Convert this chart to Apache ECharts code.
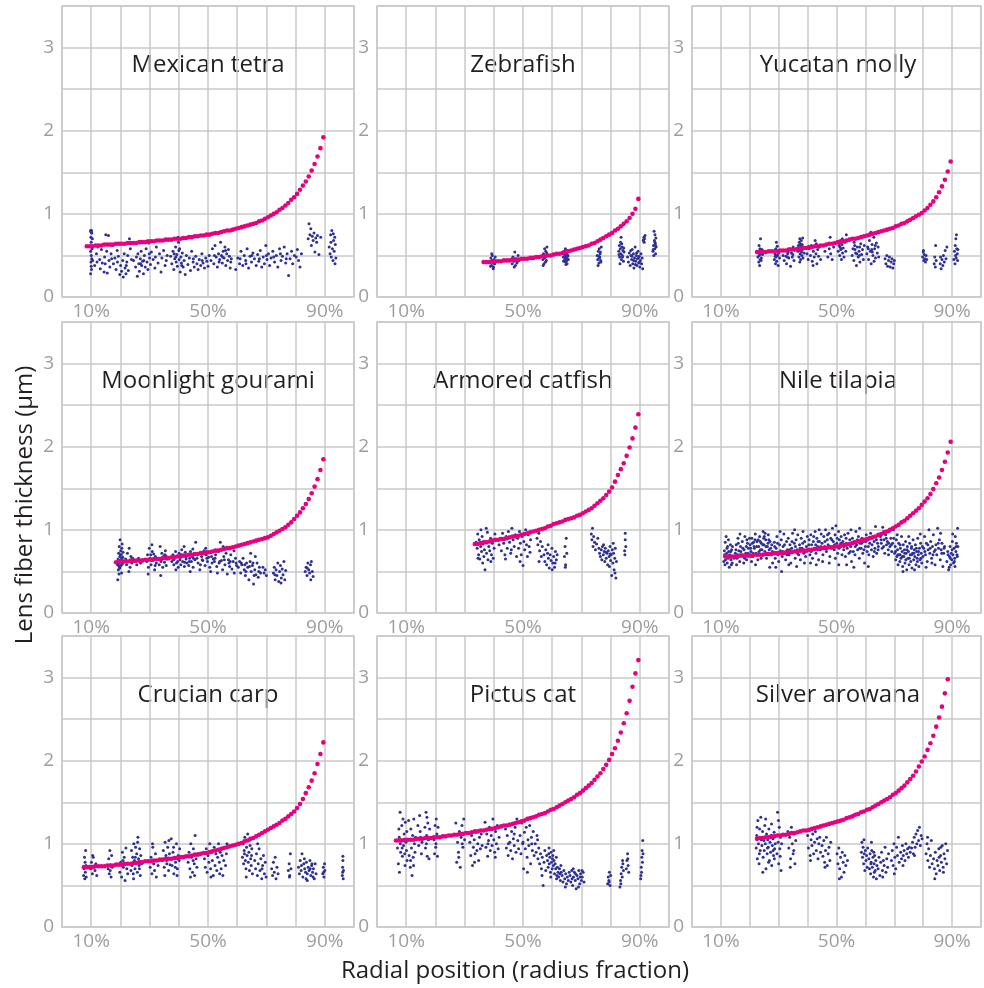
<!DOCTYPE html>
<html>
<head>
<meta charset="utf-8">
<title>Lens fiber thickness</title>
<script src="https://cdn.jsdelivr.net/npm/echarts@6/dist/echarts.min.js"></script>
<style>
  html, body { margin: 0; padding: 0; background: #fff; }
  #main { width: 984px; height: 988px; }
</style>
</head>
<body>
<div id="main"></div>
<script>
// panels, reading order (row by row)
const species = ['Mexican tetra', 'Zebrafish', 'Yucatan molly',
  'Moonlight gourami', 'Armored catfish', 'Nile tilapia',
  'Crucian carp', 'Pictus cat', 'Silver arowana'];

const xTickLabels = [10, 50, 90];   // radial position, %
const yTickLabels = [0, 1, 2, 3];   // µm

// model curve (pink): first radial position in %, then one value per 1% step
const curveStart = [8.5, 36.5, 22.5, 18.5, 33.5, 11.5, 7.5, 6.5, 22.5];

const tetraCurve = [.61,.61,.61,.62,.62,.62,.63,.63,.63,.63, .64,.64,.64,.64,.65,.65,.65,.65,.66,.66,
  .66,.67,.67,.67,.68,.68,.68,.69,.69,.69, .70,.70,.70,.71,.71,.72,.72,.73,.73,.74,
  .74,.75,.75,.76,.77,.77,.78,.79,.80,.80, .81,.82,.83,.84,.85,.86,.87,.88,.89,.91,
  .92,.94,.96,.98,1.00,1.02,1.05,1.07,1.10,1.13, 1.17,1.20,1.24,1.29,1.34,1.39,1.45,1.52,1.60,1.69, 1.79,1.92];
const zebraCurve = [.42,.42,.42,.43,.43,.43,.43,.44,.44,.44, .45,.45,.45,.46,.46,.46,.47,.47,.48,.48,
  .49,.49,.50,.50,.51,.52,.52,.53,.54,.55, .56,.57,.58,.59,.60,.61,.62,.64,.65,.67,
  .69,.71,.73,.75,.77,.80,.82,.85,.88,.91, .95,1.00,1.06,1.18];
const mollyCurve = [.54,.54,.54,.54,.55,.55,.55,.55,.56,.56, .56,.57,.57,.57,.58,.58,.59,.59,.60,.60,
  .61,.61,.62,.62,.63,.64,.64,.65,.66,.66, .67,.68,.69,.70,.70,.71,.72,.73,.74,.75,
  .76,.77,.78,.79,.80,.81,.82,.83,.85,.86, .88,.89,.91,.93,.95,.97,.99,1.01,1.04,1.07,
  1.11,1.15,1.20,1.26,1.33,1.41,1.51,1.63];
const gouramiCurve = [.61,.62,.62,.62,.62,.63,.63,.63,.63,.63, .64,.64,.64,.65,.65,.65,.66,.66,.66,.67,
  .67,.68,.68,.69,.69,.70,.70,.71,.71,.72, .72,.73,.73,.74,.75,.75,.76,.77,.78,.78,
  .79,.80,.81,.82,.83,.84,.85,.86,.87,.88, .89,.90,.91,.93,.95,.97,.99,1.01,1.03,1.06,
  1.09,1.13,1.17,1.21,1.26,1.31,1.37,1.44,1.52,1.61, 1.72,1.85];
const catfishCurve = [.83,.83,.84,.85,.85,.86,.87,.88,.88,.89, .89,.90,.91,.92,.92,.93,.94,.95,.96,.97,
  .98,.99,1.00,1.01,1.02,1.04,1.05,1.07,1.08,1.09, 1.10,1.12,1.13,1.14,1.15,1.17,1.18,1.20,1.22,1.24,
  1.26,1.29,1.32,1.35,1.38,1.42,1.46,1.51,1.58,1.66, 1.73,1.80,1.89,1.99,2.10,2.23,2.39];
const tilapiaCurve = [.68,.68,.68,.68,.68,.69,.69,.69,.69,.69, .70,.70,.70,.70,.71,.71,.71,.72,.72,.72,
  .72,.73,.73,.73,.74,.74,.75,.75,.75,.76, .76,.77,.77,.78,.78,.78,.79,.79,.80,.80,
  .81,.82,.82,.83,.84,.85,.86,.87,.88,.89, .90,.91,.92,.94,.95,.97,.98,1.00,1.02,1.04,
  1.06,1.09,1.11,1.14,1.17,1.20,1.23,1.26,1.30,1.34, 1.38,1.43,1.49,1.56,1.63,1.72,1.82,1.93,2.06];
const carpCurve = [.72,.72,.72,.72,.73,.73,.73,.73,.74,.74, .74,.75,.75,.75,.76,.76,.76,.77,.77,.78,
  .78,.79,.79,.79,.80,.80,.81,.81,.82,.82, .82,.83,.83,.84,.84,.85,.85,.86,.87,.87,
  .88,.89,.89,.90,.91,.92,.93,.94,.95,.96, .97,.98,.99,1.00,1.01,1.03,1.04,1.06,1.07,1.09,
  1.11,1.13,1.15,1.17,1.19,1.21,1.23,1.25,1.28,1.30, 1.33,1.36,1.39,1.43,1.48,1.54,1.61,1.68,1.76,1.85,
  1.96,2.08,2.22];
const pictusCurve = [1.04,1.04,1.04,1.05,1.05,1.05,1.05,1.06,1.06,1.06, 1.07,1.07,1.07,1.08,1.08,1.08,1.09,1.09,1.10,1.10,
  1.11,1.11,1.12,1.12,1.13,1.13,1.14,1.15,1.15,1.16, 1.16,1.17,1.18,1.18,1.19,1.20,1.21,1.22,1.22,1.23,
  1.24,1.25,1.26,1.27,1.28,1.30,1.31,1.32,1.33,1.35, 1.36,1.37,1.39,1.41,1.42,1.44,1.46,1.48,1.50,1.52,
  1.54,1.56,1.59,1.61,1.64,1.67,1.70,1.73,1.77,1.81, 1.85,1.90,1.95,2.01,2.08,2.15,2.24,2.34,2.45,2.57,
  2.72,2.89,3.05,3.21];
const arowanaCurve = [1.06,1.07,1.07,1.08,1.08,1.09,1.09,1.10,1.10,1.11, 1.11,1.12,1.13,1.13,1.14,1.15,1.16,1.16,1.17,1.18,
  1.19,1.20,1.21,1.22,1.23,1.24,1.25,1.26,1.27,1.28, 1.29,1.31,1.32,1.33,1.35,1.36,1.38,1.39,1.41,1.42,
  1.44,1.46,1.48,1.50,1.52,1.54,1.56,1.59,1.61,1.64, 1.67,1.70,1.74,1.78,1.82,1.87,1.93,1.99,2.05,2.13,
  2.21,2.30,2.41,2.52,2.65,2.81,2.98];

// measured fibers (navy): [radial position %, thickness µm]
const tetraDots = [
  [9.8,.80],[9.9,.79],[10.1,.80],[10.0,.78],[10.2,.77],[9.9,.72],[10.0,.66],[10.1,.61],[9.8,.55],[10.0,.50],[10.2,.46],[9.9,.42],[10.0,.37],[10.1,.33],[9.8,.28],[10.3,.58],[10.4,.70],[10.5,.44],
  [11.2,.38],[11.8,.52],[12.3,.60],[12.9,.45],[13.1,.34],[13.5,.57],[13.8,.41],[14.0,.63],[14.4,.30],[14.6,.48],[15.0,.75],[15.3,.55],[15.5,.29],[15.9,.74],[16.1,.44],[16.4,.36],[16.8,.52],[17.2,.62],[17.6,.40],
  [18.1,.47],[18.5,.33],[18.9,.56],[19.3,.49],[19.8,.27],[20.1,.38],[20.4,.31],[20.8,.44],[21.0,.24],[21.3,.52],[21.6,.35],[21.9,.28],[22.2,.42],[22.5,.50],[22.7,.32],[23.1,.70],[23.4,.58],[23.8,.45],
  [25.2,.36],[25.5,.48],[25.8,.25],[26.0,.52],[26.3,.40],[26.5,.31],[26.8,.46],[27.1,.55],[27.3,.38],[27.6,.43],[27.9,.28],[28.2,.50],[28.5,.36],[28.8,.58],[29.1,.42],[29.4,.33],[29.7,.65],[30.0,.47],[30.3,.39],[30.6,.54],
  [31.2,.45],[31.8,.35],[32.3,.60],[32.9,.41],[33.4,.52],[33.9,.30],[34.2,.47],[34.8,.56],[35.3,.38],[35.7,.44],
  [37.2,.49],[37.6,.40],[38.0,.55],[38.3,.33],[38.6,.46],[38.9,.60],[39.1,.42],[39.3,.51],[39.5,.37],[39.7,.72],[39.9,.66],[40.1,.45],[40.3,.58],[40.5,.30],[40.7,.48],[40.9,.41],[41.2,.53],[41.5,.36],[41.8,.44],[42.2,.27],[42.6,.50],
  [43.1,.39],[43.6,.47],[44.0,.32],[44.4,.55],[44.9,.42],[45.3,.36],[45.8,.49],[46.2,.40],[46.6,.33],[47.0,.45],[47.5,.38],[47.9,.52],[48.3,.41],[48.8,.35],[49.2,.47],[49.6,.43],[50.0,.37],[50.4,.50],
  [51.0,.44],[51.5,.58],[52.0,.40],[52.4,.62],[52.8,.48],[53.2,.36],[53.6,.52],[54.0,.45],[54.3,.66],[54.6,.50],[54.9,.41],[55.2,.55],[55.5,.47],[55.8,.60],[56.1,.38],[56.4,.52],[56.7,.44],[57.0,.57],[57.3,.49],[57.6,.35],[58.0,.46],
  [59.5,.33],[60.2,.47],[60.8,.40],[61.3,.55],[61.9,.38],[62.4,.50],[62.9,.44],[63.4,.58],[63.9,.35],[64.4,.49],[64.9,.42],[65.4,.53],[65.9,.46],
  [66.5,.38],[67.0,.51],[67.4,.43],[67.9,.56],[68.4,.36],[68.9,.48],[69.3,.40],[69.8,.62],[70.2,.45],[70.7,.52],[71.1,.38],[71.6,.47],
  [72.2,.55],[72.8,.42],[73.4,.50],[73.9,.36],[74.5,.58],[75.0,.44],[75.5,.49],[76.1,.60],[76.6,.41],[77.1,.52],[77.6,.26],[78.1,.46],[78.6,.55],[79.0,.40],
  [80.2,.48],[80.6,.57],[81.0,.44],[81.5,.36],[82.0,.52],
  [84.3,.70],[84.6,.88],[84.9,.75],[85.2,.82],[85.4,.62],[85.7,.73],[86.0,.68],[86.3,.77],[86.6,.54],[86.9,.71],[87.2,.66],[87.5,.74],[88.0,.51],[88.6,.72],
  [91.5,.60],[91.8,.52],[92.0,.75],[92.2,.48],[92.4,.80],[92.6,.58],[92.8,.44],[93.0,.68],[93.2,.55],[93.4,.72],[93.6,.63],[93.8,.47],[92.1,.66],[92.9,.76],[93.5,.40],
  [12.0,.42],[14.8,.40],[17.0,.46],[19.0,.42],[22.0,.38],[24.5,.44],[26.9,.40],[28.0,.44],[29.9,.52],[32.0,.48],[36.0,.50],[38.4,.52],[39.0,.48],[40.0,.56],[41.0,.38],[45.0,.46],
  [48.0,.44],[52.2,.50],[53.8,.42],[55.0,.48],[56.0,.56],[57.8,.42],[61.0,.46],[63.0,.40],[65.0,.50],[67.6,.46],[70.0,.50],[72.5,.48],[74.8,.52],[76.8,.46],[79.6,.50]
];
const zebraDots = [
  [38.8,.42],[39.0,.47],[39.2,.38],[39.4,.44],[39.5,.50],[39.7,.41],[39.9,.36],[40.1,.45],[40.3,.40],[39.3,.52],[39.8,.34],[40.5,.48],[40.0,.43],[38.9,.37],
  [46.0,.45],[46.3,.40],[46.6,.48],[46.9,.43],[47.2,.54],[47.4,.38],[47.7,.46],[48.0,.42],[48.3,.50],[48.6,.44],[47.0,.36],[46.4,.47],[47.9,.41],
  [56.8,.45],[57.0,.52],[57.2,.40],[57.4,.58],[57.6,.48],[57.8,.55],[58.0,.44],[58.2,.60],[57.3,.50],[57.7,.42],[56.9,.38],[58.1,.53],[57.5,.47],
  [63.8,.48],[64.0,.55],[64.1,.44],[64.3,.51],[64.4,.46],[64.5,.58],[64.6,.42],[64.8,.50],[64.9,.47],[65.0,.53],[65.1,.40],[65.3,.49],[65.5,.45],[64.2,.52],[64.7,.39],[65.2,.56],[63.9,.43],[65.4,.50],[64.6,.48],[65.0,.44],
  [75.4,.50],[75.6,.45],[75.8,.55],[76.0,.41],[76.1,.58],[76.3,.48],[76.4,.52],[76.6,.44],[76.8,.60],[75.7,.38],[76.2,.47],[76.5,.54],[75.9,.49],[76.7,.42],
  [82.8,.55],[83.0,.62],[83.1,.48],[83.3,.58],[83.4,.66],[83.5,.52],[83.6,.72],[83.7,.45],[83.9,.60],[84.0,.50],[84.2,.56],[84.4,.43],[84.6,.54],[83.2,.40],[83.8,.64],[84.1,.48],[82.9,.51],[84.5,.59],
  [85.8,.48],[86.1,.42],[86.4,.53],[86.7,.38],[87.0,.50],[87.2,.45],[87.4,.57],[87.6,.40],[87.8,.52],[88.0,.35],[88.2,.47],[88.4,.60],[88.6,.43],[88.8,.50],[89.0,.38],[89.2,.46],[89.4,.55],[89.6,.41],[89.8,.49],[90.0,.36],[90.2,.44],[90.4,.52],[90.6,.40],[90.8,.47],[91.0,.34],[86.9,.56],[87.9,.44],[88.9,.53],[89.9,.42],[88.5,.39],[87.3,.49],[89.5,.47],
  [91.2,.68],[91.4,.72],[91.6,.70],[91.8,.74],[91.5,.66],[91.3,.69],
  [94.5,.55],[94.7,.62],[94.8,.50],[95.0,.68],[95.1,.58],[95.2,.75],[95.3,.64],[95.4,.52],[95.5,.71],[95.6,.60],[94.9,.79],[95.2,.66],[94.6,.57],[95.4,.62]
];
const mollyDots = [
  [22.8,.48],[23.0,.55],[23.1,.42],[23.2,.62],[23.3,.50],[23.4,.38],[23.5,.58],[23.6,.45],[23.7,.70],[23.8,.53],[24.0,.47],[24.2,.57],[24.4,.51],[23.9,.44],[24.6,.55],
  [28.5,.45],[28.7,.52],[28.9,.40],[29.0,.58],[29.1,.48],[29.2,.66],[29.3,.43],[29.4,.55],[29.6,.50],[29.8,.38],[30.0,.53],[30.3,.47],[29.5,.61],[28.8,.49],
  [31.5,.50],[31.9,.44],[32.3,.56],[32.7,.40],[33.1,.52],[33.5,.47],[33.8,.58],[34.1,.37],[34.4,.53],[34.7,.48],[35.0,.60],[35.3,.44],[32.5,.49],[33.3,.54],[34.9,.51],
  [36.6,.55],[36.8,.62],[37.0,.48],[37.1,.66],[37.2,.58],[37.3,.70],[37.4,.52],[37.5,.64],[37.6,.45],[37.7,.60],[37.8,.68],[37.9,.54],[38.0,.50],[38.1,.63],[38.2,.57],[38.4,.47],[38.6,.60],[38.8,.53],[37.3,.42],[38.3,.71],
  [39.8,.52],[40.2,.45],[40.6,.58],[41.0,.50],[41.3,.62],[41.6,.43],[42.0,.55],[42.3,.48],[42.6,.68],[42.9,.52],[43.2,.40],[43.5,.57],[43.8,.49],[44.1,.60],[44.5,.45],[41.9,.38],[43.0,.64],
  [46.0,.55],[46.5,.63],[47.0,.48],[47.5,.58],[48.0,.52],[48.5,.45],[49.0,.60],[47.8,.72],
  [50.6,.55],[50.9,.62],[51.1,.50],[51.3,.68],[51.5,.57],[51.7,.45],[51.9,.63],[52.1,.53],[52.3,.59],[52.6,.48],[52.9,.66],[53.2,.55],[53.4,.75],[51.2,.60],[52.0,.70],
  [55.4,.50],[55.7,.58],[56.0,.44],[56.3,.62],[56.6,.53],[56.9,.38],[57.2,.60],[57.5,.48],[57.8,.55],[58.1,.42],[58.4,.64],[58.7,.51],[59.0,.57],[59.3,.45],[59.6,.62],[56.1,.66],[57.9,.50],
  [60.5,.52],[60.8,.60],[61.1,.45],[61.4,.68],[61.7,.55],[62.0,.40],[62.3,.63],[62.6,.50],[62.9,.72],[63.2,.58],[63.5,.47],[63.8,.65],[64.1,.53],[64.4,.60],[61.9,.78],[63.0,.43],[62.2,.57],[64.6,.48],
  [66.8,.46],[67.1,.40],[67.4,.50],[67.7,.37],[68.0,.44],[68.3,.48],[68.6,.36],[68.9,.42],[69.2,.46],[69.5,.35],[69.8,.40],[70.0,.44],
  [79.8,.48],[80.0,.54],[80.2,.44],[80.4,.51],[80.6,.46],[80.8,.42],[81.0,.50],[81.2,.45],[80.1,.56],
  [83.8,.40],[84.0,.48],[84.2,.36],[84.3,.62],[84.5,.44],
  [85.9,.40],[86.2,.34],[86.5,.45],[86.8,.38],[87.0,.50],[87.3,.42],[87.6,.56],[87.9,.46],[88.2,.60],[86.0,.48],
  [90.6,.45],[90.8,.55],[91.0,.40],[91.1,.62],[91.2,.50],[91.3,.70],[91.4,.47],[91.5,.75],[91.6,.58],[91.8,.52],[91.9,.44],[92.0,.57],
  [37.0,.56],[37.6,.62],[38.0,.58],[56.4,.57],[57.0,.52],[58.0,.60],[61.0,.58],[62.4,.54],[63.4,.62],[23.5,.52],[29.3,.50],[51.6,.58],[42.0,.60],[33.0,.48]
];
const gouramiDots = [
  [19.0,.58],[19.2,.65],[19.3,.52],[19.4,.72],[19.5,.60],[19.6,.80],[19.7,.55],[19.8,.68],[19.9,.88],[20.0,.62],[20.1,.75],[20.2,.57],[20.3,.70],[20.4,.48],[20.5,.64],[20.6,.83],[20.7,.59],[20.8,.67],[19.1,.40],[19.5,.47],[20.9,.73],[19.8,.54],[20.3,.61],[20.5,.78],
  [21.8,.65],[22.1,.58],[22.4,.72],[22.7,.62],[23.0,.78],[23.3,.55],[23.6,.68],[23.9,.60],[24.2,.66],[22.9,.50],
  [25.0,.62],[25.6,.58],[26.2,.66],[26.9,.60],[27.5,.64],
  [29.0,.62],[29.3,.70],[29.6,.55],[29.9,.78],[30.2,.66],[30.5,.58],[30.8,.82],[31.1,.63],[31.4,.71],[31.7,.52],[32.0,.68],[32.3,.60],[29.5,.47],[30.9,.74],[31.9,.57],
  [33.0,.66],[33.3,.58],[33.6,.80],[33.9,.62],[34.2,.72],[34.5,.55],[34.8,.68],[35.1,.61],[35.4,.75],[35.7,.57],[36.0,.65],[33.8,.45],[35.2,.70],
  [37.6,.62],[38.0,.70],[38.3,.58],[38.6,.66],[38.9,.74],[39.2,.60],[39.5,.68],[39.8,.55],[40.1,.72],[40.4,.64],[40.7,.58],[41.0,.76],[41.3,.62],[41.6,.69],[41.9,.56],[42.2,.73],[42.5,.65],[42.8,.60],[43.1,.70],[43.4,.57],[43.7,.66],[44.0,.74],[44.3,.62],[44.6,.68],[44.9,.55],[45.2,.71],[45.5,.64],[45.8,.85],[39.0,.52],[41.8,.80],[43.9,.50],[40.6,.67],[42.0,.61],[44.8,.77],
  [46.2,.66],[46.6,.60],[47.0,.72],[47.4,.58],[47.8,.68],[48.2,.63],[48.6,.75],[49.0,.57],[49.4,.70],[49.8,.62],[50.2,.67],[50.6,.55],[51.0,.73],[51.4,.60],[51.8,.65],[47.2,.52],[49.2,.78],[50.9,.50],
  [52.2,.62],[52.6,.70],[53.0,.56],[53.4,.74],[53.8,.60],[54.2,.85],[54.6,.63],[55.0,.52],[55.4,.68],[55.8,.58],[56.2,.72],[56.6,.47],[57.0,.64],[57.4,.56],[57.8,.70],[58.2,.53],[58.6,.62],[59.0,.48],[59.4,.66],[59.8,.57],[53.2,.48],[55.2,.80],[57.2,.60],[58.9,.75],
  [60.4,.55],[60.8,.62],[61.2,.48],[61.6,.58],[62.0,.66],[62.4,.52],[62.8,.45],[63.2,.60],[63.6,.55],[64.0,.40],[64.4,.62],[64.8,.50],[65.2,.57],[65.6,.35],[66.0,.52],[66.4,.46],[66.8,.60],[67.2,.43],[67.6,.55],[68.0,.48],[64.6,.72],[66.2,.68],[63.0,.50],[65.8,.45],
  [68.8,.55],[69.2,.48],[69.6,.52],[70.0,.45],
  [72.4,.48],[72.7,.55],[73.0,.40],[73.3,.52],[73.6,.45],[73.9,.60],[74.2,.38],[74.5,.50],[74.8,.57],[75.1,.42],[75.4,.53],[75.7,.46],[76.0,.62],[76.3,.40],[76.6,.51],[72.9,.46],[75.0,.36],
  [83.3,.50],[83.6,.55],[83.9,.45],[84.2,.60],[84.5,.52],[84.8,.48],[85.1,.58],[85.4,.62],[85.7,.50],[86.0,.44],[84.0,.54],[85.2,.40],
  [19.6,.63],[20.0,.70],[20.4,.66],[19.4,.57],[38.2,.64],[39.6,.62],[40.8,.70],[42.4,.68],[43.6,.62],[45.0,.66],[46.4,.70],[48.0,.64],[49.6,.66],[51.2,.68],
  [52.4,.66],[54.0,.62],[55.6,.64],[57.6,.62],[59.6,.60],[61.4,.60],[62.6,.58],[64.2,.56],[65.4,.60],[67.4,.50],[30.4,.70],[32.2,.66],[34.0,.64],[35.6,.69]
];
const catfishDots = [
  [34.0,.85],[34.3,.78],[34.5,.95],[34.8,.70],[35.0,.88],[35.2,.65],[35.5,.80],[35.8,.74],[36.0,.92],[36.3,.83],[36.6,.68],[36.8,.76],[37.0,.52],[37.2,.86],[37.5,.72],[37.8,.97],[38.0,.64],[38.3,.80],[38.6,.75],[38.9,.90],[39.2,.70],[39.5,.84],[39.8,.66],[40.1,.78],[40.4,.95],[35.6,1.00],[37.4,1.02],[36.2,.60],[39.0,.62],[34.6,.66],
  [41.8,.82],[42.2,.90],[42.6,.75],[43.0,.96],[43.4,.84],[43.8,.70],[44.2,.92],[44.6,.78],[45.0,.98],[45.4,.85],[45.8,.72],[46.2,1.02],[46.6,.88],[47.0,.80],[47.4,.94],[47.8,.68],[44.0,.65],[46.0,.76],
  [48.2,.90],[48.5,.78],[48.8,.98],[49.1,.84],[49.4,.70],[49.7,.92],[50.0,.57],[50.3,.86],[50.6,.76],[50.9,1.00],[51.2,.82],[51.5,.68],[51.8,.94],[52.1,.80],[52.4,.73],[49.0,.62],[50.5,.95],[52.6,.88],
  [54.8,.90],[55.1,.82],[55.4,.96],[55.7,.75],[56.0,.86],[56.3,.68],[56.6,.80],[55.5,.62],
  [57.2,.70],[57.5,.62],[57.8,.76],[58.1,.58],[58.4,.72],[58.7,.66],[59.0,.54],[59.3,.70],[59.6,.63],[59.9,.78],[60.2,.60],[60.5,.68],[60.8,.55],[61.1,.74],[61.4,.64],[61.7,.70],[58.6,.82],[60.0,.52],[61.0,.60],
  [64.2,.68],[64.4,.80],[64.6,.58],[64.8,.90],[65.0,.72],[64.5,.55],
  [73.4,.95],[73.6,.88],[73.8,1.02],[74.0,.80],[74.2,.92],[74.5,.85],[74.8,.76],[75.2,.83],[75.6,.90],[76.0,.78],
  [76.2,.72],[76.5,.68],[76.8,.76],[77.0,.64],[77.2,.80],[77.5,.70],[77.8,.74],[78.0,.62],[78.2,.78],[78.5,.66],[78.8,.72],[79.0,.58],[79.2,.75],[79.5,.68],[79.8,.80],[80.0,.63],[80.2,.70],[80.4,.45],[80.6,.76],[80.8,.60],[81.0,.72],[81.2,.52],[81.4,.66],[81.6,.78],[81.8,.42],[82.0,.62],[77.6,.82],[79.6,.56],[80.9,.84],[81.5,.48],[78.4,.73],[79.9,.71],
  [84.8,.75],[85.0,.88],[85.2,.80],[85.0,.96],[84.9,.70]
];
const tilapiaDots = [
  [11.0,.62],[11.2,.75],[11.4,.58],[11.5,.85],[11.7,.68],[11.8,.92],[12.0,.72],[12.2,.60],[12.3,.80],[12.5,.66],[12.7,.74],[12.9,.55],[13.1,.70],[13.3,.82],[13.5,.64],[13.7,.76],[13.9,.60],[14.1,.68],[11.3,.70],[12.6,.88],[13.6,.58],
  [15.0,.72],[15.3,.82],[15.6,.66],[15.9,.90],[16.2,.75],[16.5,.62],[16.8,.80],[17.1,.70],[17.4,.86],[17.7,.68],[18.0,.76],[18.3,.92],[18.6,.72],[18.9,.64],[19.2,.84],[19.5,.78],[19.8,.70],[15.4,.58],[16.6,.95],[17.9,.60],[19.0,.88],
  [20.1,.82],[20.4,.74],[20.7,.90],[21.0,.68],[21.3,.85],[21.6,.78],[21.9,.95],[22.2,.72],[22.5,.86],[22.8,.64],[23.1,.80],[23.4,.92],[23.7,.76],[24.0,.84],[24.3,.70],[24.6,.98],[24.9,.82],[25.2,.74],[25.5,.88],[25.8,.66],[26.1,.80],[26.4,.94],[26.7,.76],[27.0,.86],[27.3,.70],[27.6,.82],[27.9,.60],[20.6,.62],[22.0,.58],[23.9,.66],[25.3,.96],[26.9,.55],[21.5,.80],[23.2,.74],[24.8,.90],[26.3,.84],[22.9,.88],[25.9,.72],
  [28.2,.72],[28.5,.85],[28.8,.66],[29.1,.78],[29.4,.92],[29.7,.70],[30.0,.62],[30.3,.82],[30.6,.75],[30.9,.88],[31.2,.68],[31.5,.80],[31.8,.95],[32.1,.72],[32.4,.64],[32.7,.86],[33.0,.76],[33.3,.90],[33.6,.70],[33.9,.82],[34.2,.60],[34.5,.78],[34.8,.96],[35.1,.74],[35.4,.84],[35.7,.66],[36.0,.88],[36.3,.76],[36.6,.94],[36.9,.70],[37.2,.82],[37.5,.64],[37.8,.90],[38.1,.78],[38.4,.98],[38.7,.72],[39.0,.86],[39.3,.68],[39.6,.80],[39.9,.92],[29.0,.55],[31.0,.50],[33.5,.58],[36.2,.56],[38.9,.60],[30.5,.98],[35.5,1.00],
  [40.2,.76],[40.5,.88],[40.8,.70],[41.1,.94],[41.4,.82],[41.7,.66],[42.0,.86],[42.3,.78],[42.6,.98],[42.9,.72],[43.2,.90],[43.5,.80],[43.8,.64],[44.1,.86],[44.4,.76],[44.7,.95],[45.0,.84],[45.3,.70],[45.6,.92],[45.9,.80],[46.2,1.00],[46.5,.74],[46.8,.88],[47.1,.82],[47.4,.96],[47.7,.68],[48.0,.90],[48.3,.78],[48.6,1.02],[48.9,.86],[49.2,.76],[49.5,.94],[49.8,1.05],[50.1,.84],[50.4,.72],[50.7,.98],[51.0,.88],[51.3,.80],[51.6,.92],[51.9,.70],[41.0,.60],[43.0,.58],[45.2,.62],[47.5,.60],[49.6,.66],[50.8,.58],[44.0,1.00],
  [52.2,.86],[52.5,.76],[52.8,.94],[53.1,.68],[53.4,.84],[53.7,.78],[54.0,.96],[54.3,.72],[54.6,.88],[54.9,.80],[55.2,.62],[55.5,.90],[55.8,.74],[56.1,.86],[56.4,.70],[56.7,.98],[57.0,.82],[57.3,.76],[57.6,.92],[57.9,.66],[58.2,.84],[58.5,.78],[58.8,.90],[59.1,.72],[59.4,.86],[59.7,.60],[60.0,.80],[60.3,.94],[60.6,.74],[60.9,.88],[61.2,.70],[61.5,.84],[61.8,.96],[62.1,.76],[62.4,.90],[62.7,.68],[63.0,.86],[63.3,.78],[63.6,.92],[63.9,.72],[64.2,.84],[64.5,.80],[53.5,.58],[56.0,.55],[58.0,1.02],[61.0,.56],[63.5,1.04],[55.0,1.00],
  [65.2,.92],[65.5,.84],[65.8,.78],[66.1,.96],[66.4,.88],[66.7,.72],[67.0,.94],[67.3,.82],[67.6,.86],[67.9,.76],[68.2,.98],[68.5,.80],[68.8,.90],[69.1,.74],[69.4,.84],[69.7,1.00],[66.0,1.03],[68.0,.70],
  [70.1,.72],[70.3,.80],[70.5,.64],[70.7,.88],[70.9,.68],[71.1,.76],[71.3,.58],[71.5,.84],[71.7,.70],[71.9,.62],[72.1,.78],[72.3,.66],[72.5,.92],[72.7,.74],[72.9,.56],[73.1,.82],[73.3,.68],[73.5,.76],[73.7,.60],[73.9,.86],[74.1,.72],[74.3,.52],[74.5,.80],[74.7,.66],[74.9,.74],[75.1,.58],[75.3,.84],[75.5,.70],[75.7,.62],[75.9,.78],[76.1,.54],[76.3,.72],[76.5,.88],[76.7,.64],[76.9,.76],[77.1,.68],[77.3,.82],[77.5,.58],[77.7,.74],[77.9,.66],[78.1,.90],[78.3,.70],[78.5,.56],[78.7,.78],[78.9,.64],[79.1,.84],[79.3,.72],[79.5,.60],[79.7,.80],[79.9,.68],[71.0,.94],[73.0,.50],[75.0,.92],[77.0,.52],[79.0,.95],[72.0,.70],[74.0,.64],[76.0,.80],[78.0,.62],
  [80.2,.78],[80.5,.92],[80.8,.70],[81.1,.84],[81.4,.62],[81.7,.76],[82.0,1.00],[82.3,.72],[82.6,.86],[82.9,.66],[83.2,.80],[83.5,.94],[83.8,.74],[84.1,.58],[84.4,.82],[84.7,.70],[85.0,1.02],[85.3,.78],[85.6,.88],[85.9,.64],[86.2,.76],[86.5,.84],[86.8,.56],[87.1,.72],[87.4,.80],[81.0,.55],[83.0,.60],[86.0,.96],
  [88.2,.62],[88.5,.74],[88.8,.52],[89.1,.68],[89.3,.80],[89.5,.58],[89.7,.72],[89.9,.64],[90.1,.86],[90.3,.70],[90.5,.60],[90.7,.78],[90.9,.66],[91.1,.92],[91.3,.74],[91.5,.84],[91.7,.70],[91.9,1.02],[92.0,.80],[89.0,.55],[90.2,.95],[91.0,.56],
  [11.6,.64],[12.1,.78],[12.8,.69],[13.4,.74],[14.0,.80],[14.6,.66],[15.2,.76],[15.7,.70],[16.0,.84],[16.9,.74],[17.6,.78],[18.2,.66],[18.8,.80],[19.4,.72],[19.9,.90],
  [20.3,.78],[20.9,.84],[21.2,.72],[21.8,.88],[22.4,.80],[23.0,.70],[23.6,.86],[24.2,.76],[24.5,.82],[25.0,.92],[25.6,.80],[26.0,.70],[26.6,.88],[27.2,.78],[27.8,.74],
  [28.6,.80],[29.6,.84],[30.2,.72],[31.4,.74],[32.0,.82],[32.9,.70],[33.8,.76],[34.6,.86],[35.8,.80],[36.5,.72],[37.4,.78],[38.3,.84],[39.4,.74],
  [40.4,.82],[41.2,.74],[42.1,.92],[42.8,.82],[43.6,.86],[44.6,.80],[45.4,.78],[46.0,.86],[46.9,.94],[47.8,.80],[48.4,.88],[49.3,.82],[50.2,.90],[50.9,.78],[51.5,.84],
  [52.6,.80],[53.3,.90],[54.1,.82],[54.8,.74],[55.6,.84],[56.5,.80],[57.2,.88],[58.0,.78],[58.7,.84],[59.5,.76],[60.2,.86],[61.0,.80],[61.6,.90],[62.3,.82],[63.1,.74],[63.8,.88],[64.4,.76],
  [65.4,.88],[66.3,.80],[67.2,.90],[68.1,.84],[69.0,.82],[69.8,.90],
  [70.4,.74],[71.2,.70],[72.0,.82],[72.8,.68],[73.6,.72],[74.4,.76],[75.2,.66],[76.0,.70],[76.8,.72],[77.6,.78],[78.4,.74],[79.2,.66],
  [80.6,.74],[81.6,.82],[82.4,.78],[83.4,.70],[84.2,.76],[85.2,.84],[86.4,.72],[87.2,.78],
  [88.6,.70],[89.4,.66],[90.0,.76],[90.8,.62],[91.4,.80],[91.8,.68]
];
const carpDots = [
  [7.4,.62],[7.6,.70],[7.8,.58],[7.9,.78],[8.0,.66],[8.1,.92],[8.2,.74],[7.7,.84],[8.3,.60],[7.5,.72],
  [9.8,.70],[10.1,.78],[10.4,.64],[10.7,.84],[11.0,.72],[11.3,.68],[11.6,.76],[11.9,.62],[10.5,.86],[11.2,.74],
  [15.8,.70],[16.0,.82],[16.2,.64],[16.4,.92],[16.6,.75],[16.8,.60],[17.0,.86],[17.2,.72],[16.5,.68],
  [19.8,.66],[20.1,.78],[20.4,.60],[20.7,.90],[21.0,.72],[21.3,.84],[21.6,.56],[21.9,.95],[22.2,.70],[20.9,.80],[21.5,.75],[22.5,.64],
  [23.4,.76],[23.6,.68],[23.8,.92],[24.0,.74],[24.2,.84],[24.4,.64],[24.6,1.00],[24.8,.80],[25.0,.70],[25.2,.96],[25.4,.78],[25.6,.88],[25.8,.66],[26.0,1.08],[26.2,.82],[26.4,.74],[26.6,.94],[26.8,.62],[27.0,.86],[27.2,.76],[24.5,.58],[25.9,1.02],[26.5,.70],[25.1,.84],
  [30.2,.72],[30.5,.84],[30.8,.64],[31.1,.96],[31.4,.76],[31.7,.68],[32.0,.88],[32.3,.60],[32.6,.80],[32.9,.74],[31.0,1.00],
  [34.4,.80],[34.7,.92],[35.0,.72],[35.3,1.02],[35.6,.86],[35.9,.76],[36.2,.96],[36.5,.68],[36.8,.88],[37.1,.82],[37.4,1.06],[37.7,.74],[38.0,.90],[38.3,.64],[38.6,.84],[38.9,.78],[39.2,1.00],[39.5,.70],[39.8,.86],[40.1,.80],[35.2,.62],[36.6,1.04],[38.2,.96],[39.4,.62],[37.0,.75],[38.8,.72],[35.8,.80],[40.3,.94],
  [43.2,.78],[43.5,.90],[43.8,.70],[44.1,1.00],[44.4,.84],[44.7,.66],[45.0,.94],[45.3,.76],[45.6,1.10],[45.9,.82],[46.2,.72],[46.5,.88],[44.0,.60],[45.4,.62],[44.9,.80],
  [48.8,.82],[49.1,.72],[49.4,.94],[49.7,.66],[50.0,.86],[50.3,.78],[50.6,1.00],[50.9,.70],[51.2,.90],[51.5,.80],[51.8,.62],[52.1,.96],[52.4,.74],[52.7,.88],[53.0,.68],[53.3,.84],[53.6,1.00],[53.9,.78],[54.2,.90],[54.5,.70],[54.8,.86],[55.1,.62],[55.4,.80],[55.7,.96],[56.0,.74],[56.3,.88],[51.0,.60],[54.0,.64],[56.5,1.00],
  [61.8,.84],[62.0,1.00],[62.2,.76],[62.4,.92],[62.6,1.08],[62.8,.80],[63.0,.70],[63.2,.96],[63.4,.86],[63.6,1.12],[63.8,.78],[64.0,.90],[64.2,.68],[64.4,.98],[64.6,.82],[64.8,.74],[65.0,.94],[65.2,.64],[63.1,.60],[64.1,1.04],[62.5,.88],[64.9,.86],
  [66.0,.80],[66.3,.70],[66.6,.88],[66.9,.62],[67.2,.76],[67.5,.94],[67.8,.68],[68.1,.82],[68.4,.58],[68.7,.74],[69.0,.86],[69.3,.64],[69.6,.78],[69.9,.60],[67.0,1.00],[68.5,.70],
  [71.8,.70],[72.1,.62],[72.4,.78],[72.7,.66],[73.0,.84],[73.3,.58],[73.6,.72],[74.0,.64],
  [77.5,.68],[77.8,.76],[78.0,.62],[78.2,.88],[78.4,.70],[77.9,.60],
  [81.0,.72],[81.3,.64],[81.6,.80],[81.9,.68],[82.2,.88],[82.5,.60],[82.8,.76],[83.1,.70],[83.4,.66],[83.7,.78],[84.0,.56],[84.3,.72],[84.6,.68],[84.9,.80],[85.2,.62],[85.5,.74],[85.8,.66],[86.1,.70],[86.4,.58],[86.7,.76],[87.0,.64],[82.0,.74],[83.0,.82],[84.0,.64],[85.0,.70],[86.0,.60],[83.6,.58],[85.6,.76],
  [89.3,.64],[89.5,.72],[89.7,.60],[89.9,.76],[90.0,.68],[89.6,.66],
  [96.0,.62],[96.1,.72],[96.2,.80],[96.3,.58],[96.4,.68],[96.2,.85],[96.1,.66]
];
const pictusDots = [
  [7.0,.95],[7.3,.76],[7.5,1.18],[7.7,.66],[7.9,1.38],[8.1,.90],[8.3,1.05],[8.5,1.22],[8.7,.85],[8.9,1.30],[9.1,.98],[9.3,1.12],[9.5,.88],[9.7,1.26],[9.9,1.02],[10.1,.92],[10.3,.80],[7.6,1.08],[8.6,.95],[9.6,.74],[10.2,1.15],[8.0,1.00],
  [10.8,1.28],[11.0,.86],[11.2,1.05],[11.4,.72],[11.6,1.18],[11.8,.95],[12.0,.62],[12.2,1.10],[12.4,.84],[12.6,1.30],[12.8,1.00],[13.0,.90],[11.5,.80],[12.5,.74],[13.2,1.08],
  [14.0,1.22],[14.3,.98],[14.6,1.34],[14.9,1.08],[15.2,.88],[14.8,1.15],[15.4,1.02],
  [16.4,1.20],[16.6,.95],[16.8,1.38],[17.0,1.10],[17.2,.85],[17.4,1.25],[17.6,1.05],[17.8,.82],[18.0,1.18],[17.1,1.32],[16.9,1.00],
  [19.5,1.05],[19.7,.88],[19.9,1.22],[20.1,.96],[20.3,1.30],[20.5,1.12],[20.7,.85],[20.9,1.20],[20.2,1.00],
  [27.0,1.25],[27.3,.78],[27.6,1.02],[27.9,.90],[28.2,1.15],[28.5,.72],[28.8,1.08],[29.1,1.22],[29.4,.96],[29.7,1.30],[30.0,1.05],[28.0,.84],[29.2,1.00],
  [31.8,1.02],[32.1,.86],[32.4,1.10],[32.7,.74],[33.0,.96],[33.3,1.05],[33.6,.88],[33.9,1.14],[34.2,.92],[34.5,1.00],[34.8,.80],[35.1,1.08],[35.4,.94],[35.7,1.12],[36.0,.98],[33.4,.78],
  [37.0,1.26],[37.3,.96],[37.6,1.12],[37.9,.85],[38.2,1.04],[38.5,1.20],[38.8,.92],[39.1,1.10],[39.4,.98],[39.7,1.30],[40.0,1.05],[40.3,.90],[40.6,1.15],[40.9,1.00],[41.2,1.22],[41.5,.94],[41.8,1.08],[38.0,1.00],[40.5,.84],
  [44.0,1.18],[44.3,.95],[44.6,1.10],[44.9,.86],[45.2,1.24],[45.5,1.02],[45.8,.92],[46.1,1.15],[46.4,.82],[46.7,1.06],[47.0,.98],[47.3,1.20],[47.6,.90],[47.9,1.30],[48.2,1.04],[48.5,.94],[45.0,1.00],[47.0,1.12],
  [49.0,1.10],[49.3,.88],[49.6,1.25],[49.9,1.00],[50.2,.70],[50.5,1.14],[50.8,.94],[51.1,1.20],[51.4,.84],[51.7,1.05],[52.0,.98],[52.3,1.22],[52.6,.76],[52.9,1.08],[53.2,.92],[53.5,1.15],[53.8,.86],[50.0,1.02],[51.5,.66],[53.0,1.00],
  [54.2,1.00],[54.5,.90],[54.8,1.10],[55.1,.82],[55.4,.95],[55.7,.76],[56.0,.88],[56.3,.70],[56.6,.84],[56.9,.50],[57.2,.78],[57.5,.92],[57.8,.68],[58.1,.86],[55.0,1.05],[56.5,.62],
  [58.4,.80],[58.6,.72],[58.8,.88],[59.0,.76],[59.2,.84],[59.4,.66],[59.6,.90],[59.8,.78],[60.0,.70],[60.2,.86],[60.4,.74],[60.6,.80],[60.8,.64],[61.0,.76],[61.2,.70],[61.4,.84],[61.6,.62],[61.8,.72],[62.0,.66],[58.9,.95],[60.5,.92],[59.5,.60],[61.5,.58],[60.1,.82],
  [62.2,.60],[62.5,.70],[62.8,.56],[63.1,.66],[63.4,.62],[63.7,.54],[64.0,.68],[64.3,.58],[64.6,.64],[64.9,.52],[65.2,.60],[65.5,.56],[65.8,.66],[63.0,.74],[64.5,.48],[62.6,.64],
  [66.1,.62],[66.4,.54],[66.7,.68],[67.0,.50],[67.3,.60],[67.6,.66],[67.9,.56],[68.2,.46],[68.5,.62],[68.8,.58],[69.1,.68],[69.4,.52],[69.7,.64],[70.0,.56],[70.3,.60],[70.6,.66],[70.9,.54],[67.2,.70],[68.0,.64],[69.0,.48],[70.2,.68],[66.8,.58],[69.6,.60],
  [79.0,.52],[79.2,.60],[79.4,.56],[79.6,.66],[79.8,.50],[80.0,.62],[79.5,.54],
  [83.2,.48],[83.4,.56],[83.6,.64],[83.8,.72],[84.0,.60],[84.2,.76],[84.4,.68],[83.5,.52],[84.1,.80],
  [85.4,.70],[85.6,.80],[85.8,.88],[86.0,.74],[86.2,.66],[85.9,.82],
  [90.3,.58],[90.5,.72],[90.6,.66],[90.7,.84],[90.8,.92],[90.9,.78],[91.0,1.04],[91.1,.88],[90.4,.62]
];
const arowanaDots = [
  [22.2,.95],[22.4,1.10],[22.6,.82],[22.8,1.28],[23.0,1.00],[23.2,.76],[23.4,1.18],[23.6,.92],[23.8,1.32],[24.0,1.05],[22.5,1.20],[23.3,.88],
  [24.2,.98],[24.4,1.15],[24.6,.84],[24.8,1.08],[25.0,.92],[25.2,1.22],[25.4,1.00],[25.6,.70],[25.8,1.12],[26.0,.88],[26.2,1.05],[26.4,.96],[26.6,1.18],[26.8,.80],[27.0,1.02],[27.2,.90],[27.4,1.10],[27.6,.74],[27.8,.98],[28.0,1.06],[28.2,.86],[28.4,1.14],[28.6,.94],[28.8,1.00],[24.5,.66],[25.5,1.30],[26.5,.78],[27.5,1.24],[28.5,.82],[24.9,1.04],[26.1,.95],[27.1,1.08],[28.1,.92],
  [29.2,1.10],[29.4,.88],[29.6,1.38],[29.8,1.02],[30.0,.76],[30.2,1.20],[30.4,.94],[30.6,1.08],[30.8,.68],[31.0,1.00],[29.9,1.28],[30.5,.85],
  [33.2,1.15],[33.5,.95],[33.8,1.08],[34.1,.82],[34.4,1.20],[34.7,1.00],[35.0,.88],[35.3,1.12],[35.6,.76],[35.9,1.04],[34.0,.72],[35.2,.92],
  [40.0,1.10],[40.3,.95],[40.6,1.16],[40.9,.86],[41.2,1.05],[41.5,.98],[41.8,1.12],[42.1,.88],[42.4,1.02],[42.7,1.15],[43.0,.92],[43.3,1.06],[43.6,.82],[43.9,1.00],[44.2,1.08],[44.5,.90],[41.0,.80],
  [45.0,.98],[45.3,.85],[45.6,1.04],[45.9,.78],[46.2,.92],[46.5,1.08],[46.8,.74],[47.1,.88],[47.4,.96],[47.7,.80],[48.0,1.02],[46.0,.72],
  [50.2,.88],[50.5,.76],[50.8,.95],[51.1,.70],[51.4,.84],[51.7,.60],[52.0,.90],[52.3,.78],[52.6,.66],[52.9,.86],[53.2,.74],[53.8,.80],[51.0,.58],
  [58.6,.90],[58.8,1.02],[59.0,.84],[59.2,.96],[59.4,.76],[59.6,.88],[59.8,.68],[60.0,.92],[60.2,.80],[60.4,.86],[60.6,.72],[60.8,.95],[59.5,1.05],
  [61.2,.82],[61.4,.70],[61.6,.88],[61.8,.64],[62.0,.78],[62.2,.92],[62.4,.72],[62.6,.84],[62.8,.60],[63.0,.76],[63.2,.86],[63.4,.68],[63.6,.80],[63.8,.58],[64.0,.74],[62.1,1.02],[63.1,.66],[61.9,.76],[62.9,.90],
  [64.4,.70],[64.7,.84],[65.0,.62],[65.3,.78],[65.6,.90],[65.9,.68],[66.2,.80],[66.5,.74],[66.8,.96],[67.1,.66],[67.4,.82],[67.7,.72],[68.0,.88],[66.0,.60],
  [69.0,.80],[69.3,.92],[69.6,.74],[69.9,1.00],[70.2,.84],[70.5,.70],[70.8,.96],[71.1,.86],[71.4,1.08],[71.7,.78],[70.0,.64],
  [72.2,.90],[72.5,.82],[72.8,.98],[73.1,.86],[73.4,.92],[73.7,.80],[74.0,1.00],[74.3,.88],[74.6,.94],[74.9,.84],[75.2,.96],[75.5,.90],[73.0,.74],
  [76.0,.95],[76.3,1.02],[76.6,.88],[76.9,1.08],[77.2,.96],[77.5,1.12],[77.8,1.00],[78.1,1.16],[78.4,1.04],[78.7,1.20],[79.0,.98],[79.3,1.10],[79.6,1.06],[77.0,.86],
  [81.0,.88],[81.3,1.00],[81.6,.80],[81.9,.94],[82.2,.72],[82.5,.86],[82.8,1.04],[83.1,.76],[81.5,1.08],
  [83.6,.82],[83.9,.70],[84.2,.90],[84.5,.64],[84.8,.80],[85.1,.74],[85.4,.94],[85.7,.68],[86.0,.86],[86.3,.78],[86.6,.98],[86.9,.72],[87.2,.88],[87.5,.82],[87.8,1.00],[88.1,.76],[88.4,.92],[84.0,.58],[85.5,.84],[87.0,.66],[86.1,.96]
];

const curves = [tetraCurve, zebraCurve, mollyCurve, gouramiCurve, catfishCurve, tilapiaCurve, carpCurve, pictusCurve, arowanaCurve];
const dots = [tetraDots, zebraDots, mollyDots, gouramiDots, catfishDots, tilapiaDots, carpDots, pictusDots, arowanaDots];

// layout (px)
const colLeft = [62, 377, 692];
const rowTop = [6, 322, 636];
const panelW = 292, panelH = 291;

const font = '"Open Sans", "Noto Sans", sans-serif';
const gridGray = '#c9c9c9';
const labelGray = '#9d9d9d';
const pink = '#e6007e';
const navy = '#2e3192';

let chart = echarts.init(document.getElementById('main'));

let grids = [], xAxes = [], yAxes = [], series = [], texts = [];
species.forEach(function (name, i) {
  let col = i % 3, row = Math.floor(i / 3);
  grids.push({
    left: colLeft[col], top: rowTop[row], width: panelW, height: panelH,
    show: true, borderColor: gridGray, borderWidth: 1.5
  });
  xAxes.push({
    gridIndex: i, type: 'value', min: 0, max: 100, interval: 10,
    axisLine: { show: false }, axisTick: { show: false },
    splitLine: { lineStyle: { color: gridGray, width: 1.5 } },
    axisLabel: {
      margin: 5, color: labelGray, fontSize: 19, fontFamily: font,
      formatter: function (v) { return xTickLabels.indexOf(v) > -1 ? v + '%' : ''; }
    }
  });
  yAxes.push({
    gridIndex: i, type: 'value', min: 0, max: 3.5, interval: 0.5,
    axisLine: { show: false }, axisTick: { show: false },
    splitLine: { lineStyle: { color: gridGray, width: 1.5 } },
    axisLabel: {
      margin: 8, color: labelGray, fontSize: 19, fontFamily: font,
      formatter: function (v) { return yTickLabels.indexOf(v) > -1 ? String(v) : ''; }
    }
  });
  series.push({
    type: 'scatter', xAxisIndex: i, yAxisIndex: i,
    symbolSize: 3, itemStyle: { color: navy, opacity: 1 },
    silent: true, animation: false, z: 2,
    data: dots[i]
  });
  series.push({
    type: 'scatter', xAxisIndex: i, yAxisIndex: i,
    symbolSize: 4.6, itemStyle: { color: pink, opacity: 1 },
    silent: true, animation: false, z: 3,
    data: curves[i].map(function (v, k) { return [curveStart[i] + k, v]; })
  });
  // panel title
  texts.push({
    type: 'text', x: colLeft[col] + panelW / 2, y: rowTop[row] + 59,
    style: {
      text: name, fill: '#231f20', fontSize: 24, fontFamily: font,
      textAlign: 'center', textVerticalAlign: 'middle', align: 'center', verticalAlign: 'middle'
    }
  });
});

// shared axis names
texts.push({
  type: 'text', x: 515, y: 971,
  style: {
    text: 'Radial position (radius fraction)', fill: '#231f20', fontSize: 24, fontFamily: font,
    textAlign: 'center', textVerticalAlign: 'middle', align: 'center', verticalAlign: 'middle'
  }
});
texts.push({
  type: 'text', x: 25, y: 505, rotation: Math.PI / 2,
  style: {
    text: 'Lens fiber thickness (μm)', fill: '#231f20', fontSize: 24, fontFamily: font,
    textAlign: 'center', textVerticalAlign: 'middle', align: 'center', verticalAlign: 'middle'
  }
});

let option = {
  animation: false,
  backgroundColor: '#fff',
  grid: grids,
  xAxis: xAxes,
  yAxis: yAxes,
  series: series,
  graphic: texts
};
chart.setOption(option);
</script>
</body>
</html>
